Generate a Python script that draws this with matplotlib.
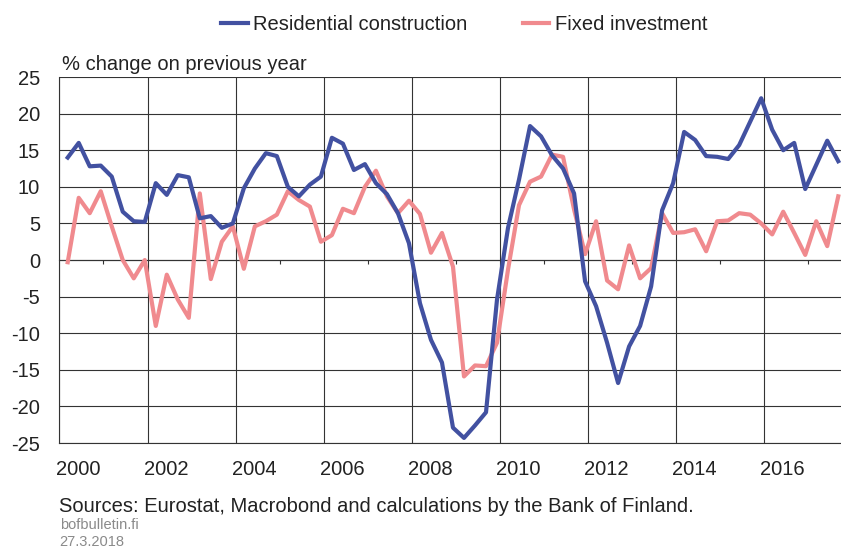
import numpy as np
import matplotlib
matplotlib.use("Agg")
import matplotlib.pyplot as plt

plt.rcParams["font.family"] = ["Liberation Sans", "DejaVu Sans"]
plt.rcParams["axes.unicode_minus"] = False

# Quarterly data, 2000 Q1 - 2017 Q3 (% change on previous year)
residential = [
    14.0, 16.0, 12.8, 12.9, 11.4, 6.6, 5.3, 5.2,            # 2000-2001
    10.5, 8.9, 11.6, 11.3, 5.7, 6.0, 4.4, 5.0,              # 2002-2003
    9.8, 12.5, 14.6, 14.2, 10.0, 8.7, 10.3, 11.4,           # 2004-2005
    16.7, 15.9, 12.3, 13.1, 10.5, 9.0, 6.4, 2.3,            # 2006-2007
    -5.9, -10.9, -14.0, -22.9, -24.3, -22.6, -20.8, -5.4,   # 2008-2009
    4.4, 11.0, 18.3, 16.9, 14.3, 12.5, 9.1, -2.9,           # 2010-2011
    -6.3, -11.3, -16.8, -11.8, -9.0, -3.6, 6.8, 10.5,       # 2012-2013
    17.5, 16.4, 14.2, 14.1, 13.8, 15.7, 18.9, 22.1,         # 2014-2015
    17.8, 15.0, 16.0, 9.7, 13.0, 16.3, 13.5,                # 2016-2017
]
fixed_inv = [
    -0.3, 8.5, 6.4, 9.4, 4.6, 0.0, -2.5, 0.0,
    -9.0, -2.0, -5.4, -7.9, 9.1, -2.6, 2.5, 4.6,
    -1.2, 4.6, 5.3, 6.2, 9.4, 8.2, 7.3, 2.5,
    3.4, 7.0, 6.4, 10.0, 12.2, 8.7, 6.4, 8.1,
    6.3, 1.0, 3.7, -0.9, -15.9, -14.4, -14.5, -11.3,
    -1.3, 7.5, 10.7, 11.4, 14.4, 14.1, 6.9, 0.8,
    5.3, -2.8, -4.0, 2.0, -2.5, -1.1, 6.4, 3.7,
    3.8, 4.2, 1.2, 5.3, 5.4, 6.4, 6.2, 5.0,
    3.5, 6.6, 3.7, 0.7, 5.3, 1.9, 8.7,
]
years = np.arange(2000, 2018, 2)
yticks = np.arange(-25, 26, 5)

t = 2000.1875 + 0.25 * np.arange(len(residential))

fig = plt.figure(figsize=(8.41, 5.49), dpi=100)
ax = fig.add_axes([0.0707, 0.193, 0.9293, 0.6667])

blue = "#4251a1"
pink = "#f08a8e"
ax.plot(t, residential, color=blue, lw=3, label="Residential construction", zorder=3)
ax.plot(t, fixed_inv, color=pink, lw=3, label="Fixed investment", zorder=2)

ax.set_xlim(2000, 2017.75)
ax.set_ylim(-25, 25)
ax.set_yticks(yticks)
ax.set_xticks(years)
ax.set_xticklabels([])
ax.set_xticks(years + 0.42, minor=True)
ax.set_xticklabels([str(y) for y in years], minor=True)
ax.tick_params(axis="x", which="both", length=0, labelsize=14.5, pad=12, colors="#222222")
ax.tick_params(axis="y", length=0, labelsize=14.5, pad=14, colors="#222222")

ax.grid(True, which="major", color="#333333", lw=0.8)
ax.set_axisbelow(True)
for s in ["top", "right"]:
    ax.spines[s].set_visible(False)
ax.spines["left"].set_color("#333333")
ax.spines["bottom"].set_color("#333333")

# small ticks on the zero line at odd years
sec = ax.secondary_xaxis(0.5)
sec.set_xticks(years + 1)
sec.set_xticklabels([])
sec.tick_params(direction="in", length=3, color="#333333")
sec.spines["bottom"].set_visible(False)

fig.text(0.074, 0.872, "% change on previous year", fontsize=14.5, color="#222222")
fig.text(0.070, 0.068, "Sources: Eurostat, Macrobond and calculations by the Bank of Finland.",
         fontsize=14.5, color="#222222")
fig.text(0.071, 0.037, "bofbulletin.fi", fontsize=10.5, color="#8a8a8a")
fig.text(0.071, 0.005, "27.3.2018", fontsize=10.5, color="#8a8a8a")

fig.legend(loc="upper center", bbox_to_anchor=(0.552, 1.005), ncol=2, frameon=False,
           fontsize=14.5, handlelength=1.3, handletextpad=0.25, columnspacing=2.8,
           labelcolor="#222222")

fig.savefig("out.png", dpi=100)
